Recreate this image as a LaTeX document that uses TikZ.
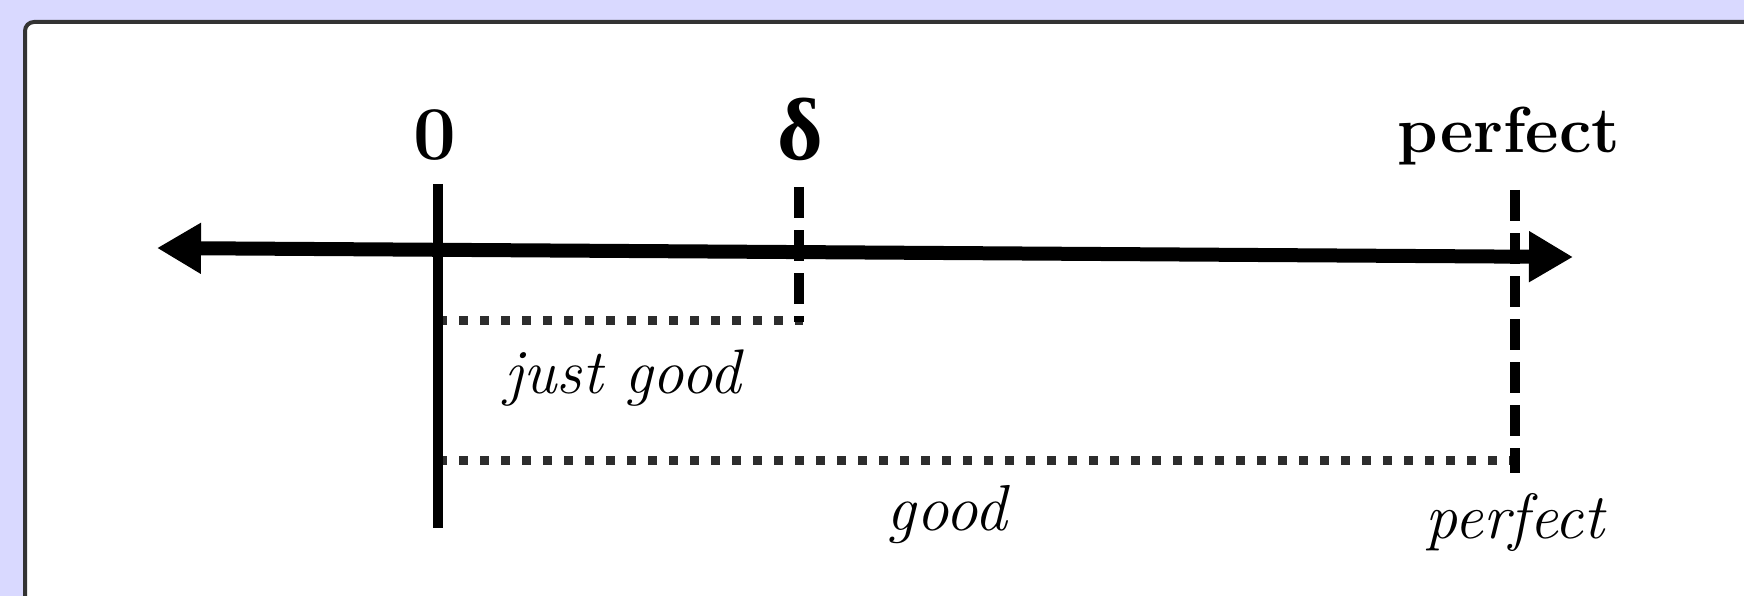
\documentclass[tikz,border=0pt]{standalone}
\usepackage{fontspec}
\setmainfont{Latin Modern Roman}
\newfontfamily\deltafont{Liberation Serif}
\usetikzlibrary{arrows.meta}
\definecolor{bgblue}{RGB}{217,217,255}
\definecolor{framegray}{RGB}{51,51,51}
\definecolor{dotgray}{RGB}{45,45,45}
\begin{document}
\begin{tikzpicture}[x=1pt,y=-1pt,
  axisline/.style={line width=14pt, {Triangle[length=44pt,width=48pt]}-{Triangle[length=44pt,width=48pt]}},
  zeroline/.style={line width=10pt},
  dashline/.style={line width=10pt, dash pattern=on 31pt off 12pt},
  dotline/.style={line width=9pt, dotgray, dash pattern=on 9pt off 12pt},
  toplabel/.style={anchor=base, inner sep=0pt, font=\fontsize{65}{78}\selectfont\bfseries},
  itlabel/.style={anchor=base, inner sep=0pt, font=\fontsize{64}{76}\selectfont\itshape},
]
\useasboundingbox (0,0) rectangle (1744,596);
\fill[bgblue] (0,0) rectangle (1744,596);
\draw[framegray, line width=4pt, fill=white, rounded corners=9pt] (25,22) rectangle (1780,640);

% coordinates
\coordinate (L) at (157,248);
\coordinate (R) at (1573,257);
\coordinate (z0) at (438,184);
\coordinate (z1) at (438,528);
\coordinate (d0) at (799,187);
\coordinate (d1) at (799,322);
\coordinate (p0) at (1515,190);
\coordinate (p1) at (1515,473);
\coordinate (jg0) at (438,320);
\coordinate (jg1) at (803,320);
\coordinate (g0) at (438,460);
\coordinate (g1) at (1523,460);

% dotted ranges
\draw[dotline] (jg0) -- (jg1);
\draw[dotline] (g0) -- (g1);

% verticals
\draw[zeroline] (z0) -- (z1);
\draw[dashline] (d0) -- (d1);
\draw[dashline] (p0) -- (p1);

% axis
\draw[axisline] (L) -- (R);

% labels
\node[toplabel, font=\fontsize{76}{80}\selectfont\bfseries] (lzero) at (435,160) {0};
\node[toplabel, font=\fontsize{88}{90}\selectfont\bfseries\deltafont] (ldelta) at (800,160) {δ};
\node[toplabel] (lperf) at (1509,153) {perfect};
\node[itlabel, font=\fontsize{63}{74}\selectfont\itshape] (ljust) at (623,393) {just good};
\node[itlabel, font=\fontsize{65}{74}\selectfont\itshape] (lgood) at (947,530) {good};
\node[itlabel] (lperfit) at (1515,538) {perfect};
\end{tikzpicture}
\end{document}
